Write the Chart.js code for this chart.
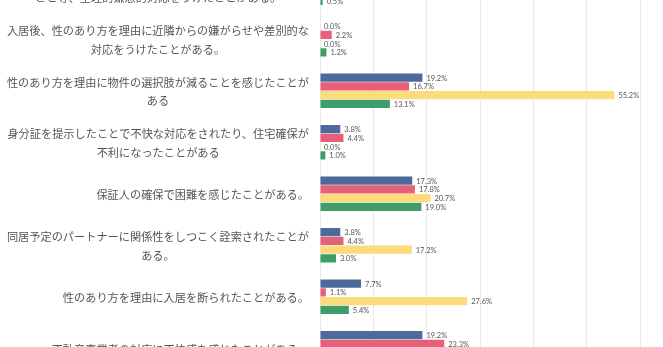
<!DOCTYPE html>
<html>
<head>
<meta charset="utf-8">
<script src="https://cdn.jsdelivr.net/npm/chart.js@4"></script>
<style>
html,body{margin:0;padding:0;background:#fff;overflow:hidden;width:663px;height:347px}
#wrap{position:absolute;left:0;top:-38px;width:663px;height:412px}
</style>
</head>
<body>
<div id="wrap"><canvas id="chart"></canvas></div>
<script>
const categories = [
["入居申込時に、性のあり方を理由に不動産事業者から嫌がる","こと等、生理的嫌悪的対応をうけたことがある。"],
["入居後、性のあり方を理由に近隣からの嫌がらせや差別的な","対応をうけたことがある。"],
["性のあり方を理由に物件の選択肢が減ることを感じたことが","ある"],
["身分証を提示したことで不快な対応をされたり、住宅確保が","不利になったことがある"],
["保証人の確保で困難を感じたことがある。"],
["同居予定のパートナーに関係性をしつこく詮索されたことが","ある。"],
["性のあり方を理由に入居を断られたことがある。"],
["不動産事業者の対応に不快感を感じたことがある。"]
]

// top and bottom groups are partly cut off in the picture
const blueValues = [1.9, 0.0, 19.2, 3.8, 17.3, 3.8, 7.7, 19.2]
const redValues = [2.2, 2.2, 16.7, 4.4, 17.8, 4.4, 1.1, 23.3]
const yellowValues = [3.4, 0.0, 55.2, 0.0, 20.7, 17.2, 27.6, 31.0]
const greenValues = [0.5, 1.2, 13.1, 1.0, 19.0, 3.0, 5.4, 17.3]

const xTicks = [0, 10, 20, 30, 40, 50, 60]

const labelPlugin = {
id:"labels",
afterDatasetsDraw(chart){

const ctx = chart.ctx
const yScale = chart.scales.y

ctx.save()

/* category labels: block right aligned, lines centred */
ctx.font = "11.2px 'Noto Sans CJK JP'"
ctx.fillStyle = "#555"
ctx.textAlign = "center"
ctx.textBaseline = "middle"

categories.forEach((lines,i)=>{
const w = Math.max(...lines.map(l => ctx.measureText(l).width))
const cx = 309 - w/2
const cy = yScale.getPixelForValue(i) + 1
lines.forEach((l,j)=>{
ctx.fillText(l, cx, cy + (j - (lines.length-1)/2) * 18.3)
})
})

/* value labels */
ctx.font = "7.5px Lato"
ctx.fillStyle = "#555"
ctx.textAlign = "left"

chart.data.datasets.forEach((ds,di)=>{
const meta = chart.getDatasetMeta(di)
meta.data.forEach((bar,i)=>{
const v = ds.data[i]
if(v == null) return
ctx.fillText(v.toFixed(1) + "%", bar.x + 4, bar.y + 0.5)
})
})

ctx.restore()
}
}

new Chart(document.getElementById("chart"),{
type:"bar",
data:{
labels:categories,
datasets:[
{label:"blue", data:blueValues, backgroundColor:"#4d6a9b"},
{label:"red", data:redValues, backgroundColor:"#e7607a"},
{label:"yellow", data:yellowValues, backgroundColor:"#fcdb7b"},
{label:"green", data:greenValues, backgroundColor:"#3d9e69"}
]
},
options:{
indexAxis:"y",
responsive:true,
maintainAspectRatio:false,
animation:false,
devicePixelRatio:1,
categoryPercentage:0.68,
barPercentage:0.94,
layout:{padding:{left:0, right:23, top:0, bottom:0}},
plugins:{
legend:{display:false},
tooltip:{enabled:false}
},
scales:{
x:{
min:xTicks[0],
max:xTicks[xTicks.length-1],
afterBuildTicks(s){ s.ticks = xTicks.map(v => ({value:v})) },
ticks:{display:false},
grid:{color:"#e8e8e8", drawTicks:false},
border:{display:false},
afterFit(s){ s.height = 0 }
},
y:{
ticks:{display:false},
grid:{display:false},
border:{display:false},
afterFit(s){ s.width = 320 }
}
}
},
plugins:[labelPlugin]
})
</script>
</body>
</html>
